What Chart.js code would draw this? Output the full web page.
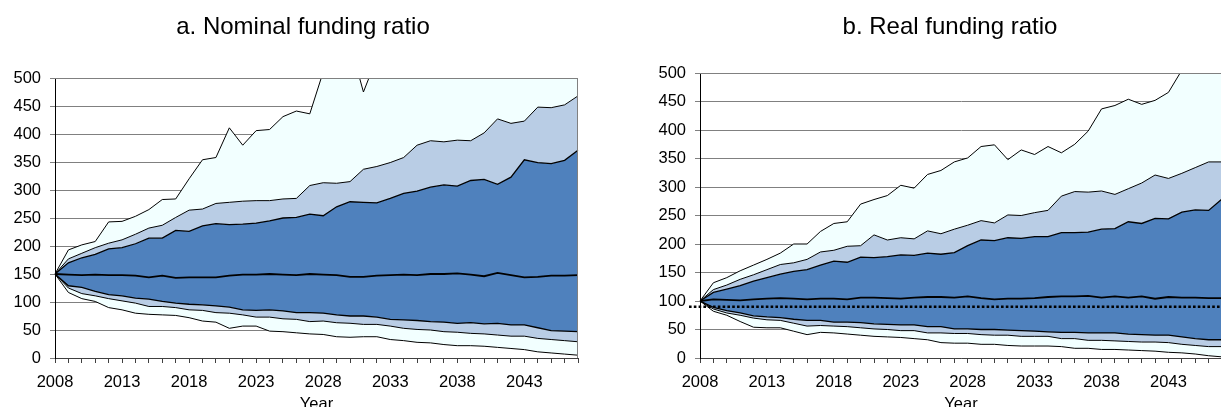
<!DOCTYPE html>
<html>
<head>
  <meta charset="utf-8" />
  <title>Funding ratio</title>
  <script src="https://cdn.jsdelivr.net/npm/chart.js@4.4.0/dist/chart.umd.min.js"></script>
  <style>
    body { margin: 0; background: #fff; overflow: hidden; width: 1221px; height: 407px; position: relative; }
    canvas { position: absolute; top: 0; }
    #nominalChart { left: 0; }
    #realChart { left: 620px; }
    .title {
      position: absolute; top: 12px; width: 400px; text-align: center;
      font: 24px/28px Arial, "Liberation Sans", sans-serif; color: #000;
    }
    #nominalTitle { left: 103px; }
    #realTitle { left: 750px; }
  </style>
</head>
<body>
  <canvas id="nominalChart" width="600" height="414"></canvas>
  <canvas id="realChart" width="612" height="414"></canvas>
  <div class="title" id="nominalTitle">a. Nominal funding ratio</div>
  <div class="title" id="realTitle">b. Real funding ratio</div>
<script>
// years on the category axis
const years = ['2008','2009','2010','2011','2012','2013','2014','2015','2016','2017',
               '2018','2019','2020','2021','2022','2023','2024','2025','2026','2027',
               '2028','2029','2030','2031','2032','2033','2034','2035','2036','2037',
               '2038','2039','2040','2041','2042','2043','2044','2045','2046','2047'];
const labelEvery = 5;
const yTicks = [0, 50, 100, 150, 200, 250, 300, 350, 400, 450, 500];

// a. nominal funding ratio (percentile lines, top to bottom)
const nomMax = [150,193,202,208,243,244,253,265,283,284,320,354,358,411,380,406,408,431,441,436,
                511,540,562,475,536,570,590,610,620,640,650,660,680,700,710,720,740,750,770,790];
const nomP95 = [150,177,187,197,205,211,221,232,237,251,264,266,276,278,280,281,281,284,285,308,
                313,312,315,337,342,349,358,380,388,386,389,388,402,427,419,423,448,447,452,468];
const nomP75 = [150,170,179,185,195,197,204,214,214,228,226,236,240,238,239,241,245,250,251,257,
                254,270,279,278,277,285,294,298,305,309,307,317,319,310,323,354,349,347,353,371];
const nomMed = [150,149,148,149,148,148,147,144,147,143,144,144,144,147,149,149,150,149,148,150,
                149,148,145,145,147,148,149,148,150,150,151,149,146,152,148,144,145,147,147,148];
const nomP25 = [150,129,126,119,113,111,107,105,101,98,96,95,93,91,86,85,86,84,81,81,
                80,77,75,75,73,69,68,67,65,64,62,63,61,62,59,59,54,49,48,47];
const nomP5  = [150,125,115,111,106,102,98,92,92,90,86,85,81,80,77,73,73,70,69,65,
                66,63,62,60,60,57,53,51,50,47,46,44,43,41,39,39,35,33,31,29];
const nomMin = [150,117,106,101,90,86,80,78,77,76,72,66,64,53,57,57,48,47,45,43,
                42,38,37,38,38,33,31,28,27,24,22,22,21,19,17,15,11,9,7,5];

// b. real funding ratio
const realMax = [100,132,141,153,163,173,184,200,200,222,236,239,270,278,285,303,298,322,329,344,
                 351,371,374,348,365,357,371,360,375,398,437,443,454,445,452,466,505,530,560,590];
const realP95 = [100,120,128,138,146,155,164,167,173,186,189,196,197,216,207,211,209,223,218,226,
                 233,241,237,251,250,255,259,284,292,291,293,287,297,307,321,315,324,334,344,344];
const realP75 = [100,115,121,127,135,141,147,152,155,163,170,168,177,176,178,181,180,184,182,185,
                 197,207,206,211,210,213,213,220,220,221,226,227,239,236,245,244,256,260,259,279];
const realMed = [100,103,102,101,103,104,105,104,103,104,104,103,106,106,105,104,106,107,107,106,
                 108,105,103,104,104,105,107,108,108,109,106,108,106,108,104,107,106,106,105,105];
const realP25 = [100,89,83,79,74,72,71,68,66,66,63,63,62,60,59,58,58,55,55,51,
                 51,50,50,49,48,47,46,45,45,44,44,44,42,41,40,40,37,34,32,32];
const realP5  = [100,86,79,75,70,67,66,61,56,57,56,55,53,51,50,48,48,44,44,43,
                 43,41,40,40,38,38,38,34,34,31,31,30,29,28,28,27,24,22,20,20];
const realMin = [100,82,75,64,54,53,53,47,41,45,44,42,40,38,37,36,34,32,27,26,
                 26,24,24,22,21,21,21,20,17,17,15,15,14,13,12,10,9,7,4,2];
const realTarget = 90;

const azure = '#F2FFFF';
const lightBlue = '#B9CDE5';
const darkBlue = '#4F81BD';

Chart.defaults.font.family = 'Arial, "Liberation Sans", sans-serif';
Chart.defaults.color = '#000';

function line(data, fill, bg, width) {
  return {
    data: data, fill: fill, backgroundColor: bg || 'transparent',
    borderColor: '#000', borderWidth: width, pointRadius: 0, tension: 0
  };
}

// top and right frame of the plot, plus the dotted level in panel b
const framePlugin = {
  id: 'frame',
  afterDatasetsDraw(chart, args, opts) {
    const ctx = chart.ctx;
    const a = chart.chartArea;
    ctx.save();
    ctx.strokeStyle = '#808080';
    ctx.lineWidth = 1;
    ctx.beginPath();
    ctx.moveTo(a.left, Math.round(a.top) + 0.5);
    ctx.lineTo(a.right, Math.round(a.top) + 0.5);
    ctx.moveTo(Math.round(a.right) - 0.5, a.top);
    ctx.lineTo(Math.round(a.right) - 0.5, a.bottom);
    ctx.stroke();
    if (opts.level != null) {
      const y = chart.scales.y.getPixelForValue(opts.level);
      ctx.strokeStyle = '#000';
      ctx.lineWidth = 2.6;
      ctx.setLineDash([2.6, 2.2]);
      ctx.beginPath();
      ctx.moveTo(a.left - 11, y);
      ctx.lineTo(a.right, y);
      ctx.stroke();
    }
    ctx.restore();
  }
};

function makeChart(id, s, opts) {
  return new Chart(document.getElementById(id), {
    type: 'line',
    data: {
      labels: years,
      datasets: [
        line(s[0], 1, azure, 1),
        line(s[1], 2, lightBlue, 1),
        line(s[2], 4, darkBlue, 1.3),
        line(s[3], false, null, 1.8),
        line(s[4], 5, lightBlue, 1.3),
        line(s[5], 6, azure, 1),
        line(s[6], false, null, 1)
      ]
    },
    plugins: [framePlugin],
    options: {
      responsive: false,
      animation: false,
      devicePixelRatio: 1,
      events: [],
      layout: { padding: { left: 0, right: opts.padRight, top: opts.top, bottom: 0 } },
      plugins: {
        legend: { display: false },
        tooltip: { enabled: false },
        filler: { drawTime: 'beforeDatasetsDraw' },
        frame: { level: opts.level },
        title: { display: false }
      },
      scales: {
        x: {
          type: 'category',
          offset: false,
          grid: { drawOnChartArea: false, tickLength: 5, color: '#404040' },
          border: { color: '#404040', width: 1 },
          ticks: {
            autoSkip: false, maxRotation: 0, padding: 10,
            font: { size: 16.5 },
            callback: function (v, i) { return i % labelEvery === 0 ? this.getLabelForValue(v) : ''; }
          },
          title: { display: true, text: 'Year', font: { size: 16.5 }, padding: { top: 1, bottom: 0 } },
          afterFit: function (scale) { scale.height = 56; }
        },
        y: {
          min: 0, max: 500,
          afterBuildTicks: function (scale) { scale.ticks = yTicks.map(v => ({ value: v })); },
          grid: { color: '#808080', tickLength: 5 },
          border: { color: '#000', width: 1 },
          ticks: { padding: 9, font: { size: 16.5 } },
          afterFit: function (scale) { scale.width = opts.axisWidth; }
        }
      }
    }
  });
}

makeChart('nominalChart',
  [nomMax, nomP95, nomP75, nomMed, nomP25, nomP5, nomMin],
  { padRight: 22, axisWidth: 55, top: 78, level: null });

makeChart('realChart',
  [realMax, realP95, realP75, realMed, realP25, realP5, realMin],
  { padRight: 10, axisWidth: 80, top: 73, level: realTarget });
</script>
</body>
</html>
